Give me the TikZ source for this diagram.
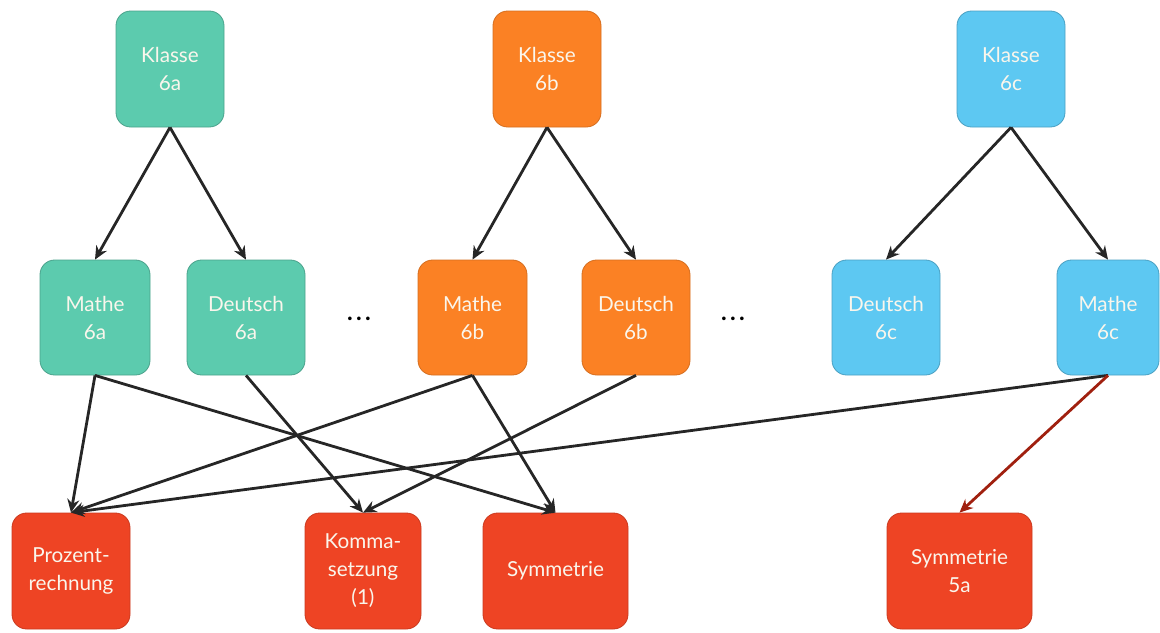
\documentclass[tikz,border=0pt]{standalone}
\usepackage{fontspec}
\setmainfont{Lato}
\usetikzlibrary{arrows.meta}
\definecolor{cteal}{HTML}{5CCBAE}
\definecolor{corange}{HTML}{FB8124}
\definecolor{cblue}{HTML}{5DC8F2}
\definecolor{cred}{HTML}{EE4424}
\definecolor{ctext}{RGB}{250,246,236}
\definecolor{carrowred}{HTML}{A0200F}
\begin{document}
\begin{tikzpicture}[x=0.75pt,y=-0.75pt,
  bx/.style={rounded corners=11pt, inner sep=0pt, align=center, text=ctext,
    font=\fontsize{15.5}{21}\selectfont, line width=0.6pt},
  tealbox/.style={bx, fill=cteal, draw=cteal!80!black},
  orangebox/.style={bx, fill=corange, draw=corange!85!black},
  bluebox/.style={bx, fill=cblue, draw=cblue!80!black},
  redbox/.style={bx, fill=cred, draw=cred!85!black},
  conn/.style={line width=2.1pt, draw=black!85, -{Stealth[length=10pt,width=9pt]}},
  redconn/.style={conn, draw=carrowred},
  dots/.style={font=\fontsize{18}{20}\selectfont\bfseries, text=black}
]
\useasboundingbox (0,0) rectangle (1160,632);

% top row
\node[tealbox, minimum width=81pt, minimum height=87pt] (k6a) at (170,69) {Klasse\\6a};
\node[orangebox, minimum width=81pt, minimum height=87pt] (k6b) at (547,69) {Klasse\\6b};
\node[bluebox, minimum width=81pt, minimum height=87pt] (k6c) at (1011,69) {Klasse\\6c};

% middle row
\node[tealbox, minimum width=82.5pt, minimum height=86.25pt] (m6a) at (95,317.5) {Mathe\\6a};
\node[tealbox, minimum width=88.5pt, minimum height=86.25pt] (d6a) at (246,317.5) {Deutsch\\6a};
\node[orangebox, minimum width=81.75pt, minimum height=86.25pt] (m6b) at (472.5,317.5) {Mathe\\6b};
\node[orangebox, minimum width=81pt, minimum height=86.25pt] (d6b) at (636,317.5) {Deutsch\\6b};
\node[bluebox, minimum width=81pt, minimum height=86.25pt] (d6c) at (886,317.5) {Deutsch\\6c};
\node[bluebox, minimum width=76.5pt, minimum height=86.25pt] (m6c) at (1108,317.5) {Mathe\\6c};

\node[dots] (dotsA) at (359,319) {.\kern2.5pt.\kern2.5pt.};
\node[dots] (dotsB) at (733,319) {.\kern2.5pt.\kern2.5pt.};

% bottom row
\node[redbox, minimum width=88.5pt, minimum height=87pt] (pz) at (71,571) {Prozent-\\rechnung};
\node[redbox, minimum width=87pt, minimum height=87pt] (km) at (363,571) {Komma-\\setzung\\(1)};
\node[redbox, minimum width=108.75pt, minimum height=87pt] (sy) at (555.5,571) {Symmetrie};
\node[redbox, minimum width=108.75pt, minimum height=87pt] (s5) at (959.5,571) {Symmetrie\\5a};

% edges
\draw[conn] (k6a.south) -- (m6a.north);
\draw[conn] (k6a.south) -- (d6a.north);
\draw[conn] (k6b.south) -- (m6b.north);
\draw[conn] (k6b.south) -- (d6b.north);
\draw[conn] (k6c.south) -- (d6c.north);
\draw[conn] (k6c.south) -- (m6c.north);

\draw[conn] (m6a.south) -- (pz.north);
\draw[conn] (m6a.south) -- (sy.north);
\draw[conn] (d6a.south) -- (km.north);
\draw[conn] (m6b.south) -- (pz.north);
\draw[conn] (m6b.south) -- (sy.north);
\draw[conn] (d6b.south) -- (km.north);
\draw[conn] (m6c.south) -- (pz.north);
\draw[redconn] (m6c.south) -- (s5.north);
\end{tikzpicture}
\end{document}
